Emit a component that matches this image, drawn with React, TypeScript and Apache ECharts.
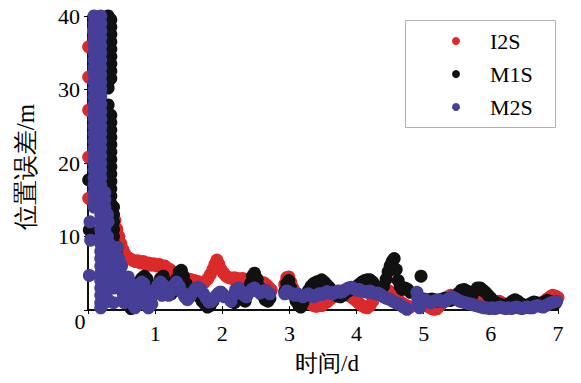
import { useEffect, useRef } from "react";
import * as echarts from "echarts";

// x axis (days) and y axis (m) ranges
const xTickValues = [0, 1, 2, 3, 4, 5, 6, 7];
const yTickValues = [0, 10, 20, 30, 40];
const seriesNames = ["I2S", "M1S", "M2S"];

// I2S position error [day, m]
const i2s: [number, number][] = [
  [0.01, 35.8], [0.01, 31.7], [0.01, 27.2], [0.01, 20.8], [0.01, 15.2],
  [0.08, 38], [0.12, 33], [0.16, 28], [0.2, 24], [0.24, 20], [0.28, 17], [0.32, 15], [0.36, 13.5],
  [0.4, 12.2], [0.43, 11], [0.46, 10], [0.49, 9], [0.52, 8.2], [0.55, 7.6], [0.58, 7.2], [0.62, 7],
  [0.66, 6.8], [0.7, 6.6], [0.74, 6.7], [0.78, 6.4], [0.82, 6.6], [0.86, 6.2], [0.9, 6.4], [0.94, 6.1],
  [0.98, 6.3], [1.02, 6], [1.06, 6.2], [1.1, 5.9], [1.14, 6], [1.18, 5.7], [1.22, 5.5], [1.26, 5.2],
  [1.3, 5], [1.34, 4.9], [1.38, 4.6], [1.42, 4.5], [1.46, 4.3], [1.5, 4.2], [1.54, 4.1], [1.58, 4],
  [1.62, 3.9], [1.66, 3.8], [1.7, 3.7], [1.74, 3.8], [1.78, 4.2], [1.82, 4.8], [1.86, 5.5], [1.89, 6.2],
  [1.92, 6.8], [1.95, 6.2], [1.98, 5.5], [2.02, 5], [2.06, 4.6], [2.1, 4.4], [2.14, 4.3], [2.18, 4.4],
  [2.22, 4.3], [2.26, 4.2], [2.3, 4.3], [2.34, 4.2], [2.38, 4], [2.42, 3.9], [2.46, 3.8], [2.5, 3.9],
  [2.54, 3.7], [2.58, 3.6], [2.62, 3.7], [2.66, 3.4], [2.7, 3], [2.73, 2.7],
  [2.93, 3.5], [2.96, 4.4], [2.99, 4.5], [3.02, 3.8], [3.05, 3], [3.08, 2.4], [3.12, 2], [3.16, 1.8],
  [3.2, 1.5], [3.24, 1.2], [3.28, 1], [3.32, 0.8], [3.36, 0.6], [3.4, 0.5], [3.44, 0.7], [3.48, 0.6],
  [3.52, 0.9], [3.56, 1.1], [3.6, 1.4], [3.64, 1.8], [3.68, 2.2], [3.72, 2.4], [3.76, 2.6], [3.8, 2.5],
  [3.84, 2.2], [3.88, 2], [3.92, 1.8], [3.96, 1.5], [4.0, 1.2], [4.04, 0.9], [4.08, 0.6], [4.12, 0.4],
  [4.16, 0.3], [4.2, 0.6], [4.24, 1.2], [4.28, 1.8], [4.32, 2.2], [4.36, 2.4], [4.4, 2.6], [4.44, 2.8],
  [4.48, 2.6], [4.52, 2.2], [4.56, 1.8], [4.6, 1.5], [4.64, 1.2], [4.68, 0.9], [4.72, 0.7], [4.76, 0.5],
  [4.8, 0.4],
  [4.92, 1.2], [4.96, 1], [5.0, 0.8], [5.04, 0.6], [5.08, 0.4], [5.12, 0.2], [5.16, 0.1], [5.2, 0.2],
  [5.24, 0.6], [5.28, 1], [5.32, 1.4], [5.36, 1.8], [5.4, 2], [5.44, 1.8], [5.48, 1.5], [5.52, 1.3],
  [5.56, 1.2], [5.6, 1.1], [5.64, 1.2], [5.68, 1.4], [5.72, 1.3], [5.76, 1.1], [5.8, 1.2], [5.84, 1.3],
  [5.88, 1.2], [5.92, 1.1], [5.96, 1], [6.0, 0.9], [6.04, 1], [6.08, 1.1], [6.12, 1.2], [6.16, 1],
  [6.2, 0.8], [6.24, 0.6], [6.28, 0.5], [6.32, 0.5], [6.36, 0.6], [6.4, 0.5], [6.44, 0.6], [6.48, 0.7],
  [6.52, 0.6], [6.56, 0.5], [6.6, 0.6], [6.64, 0.7], [6.68, 0.8], [6.72, 0.9], [6.76, 1], [6.8, 1.2],
  [6.84, 1.5], [6.88, 1.8], [6.92, 2], [6.96, 1.9], [7.0, 1.7],
];

// M1S position error [day, m]
const m1s: [number, number][] = [
  [0.01, 17.7], [0.02, 10.9], [0.05, 9.8],
  [0.3, 40], [0.3, 39], [0.3, 38], [0.3, 37], [0.3, 36], [0.3, 35], [0.3, 34], [0.3, 33], [0.3, 32],
  [0.3, 31], [0.3, 30.2], [0.3, 27.9], [0.3, 26.8], [0.3, 25.8], [0.3, 24.8], [0.3, 23.8], [0.3, 22.8],
  [0.3, 21.8], [0.3, 20.8], [0.3, 19.8], [0.3, 18.8], [0.3, 17.8], [0.3, 16.8], [0.3, 15.8],
  [0.34, 39.5], [0.34, 38.5], [0.34, 37.5], [0.34, 36.5], [0.34, 35.5], [0.34, 34.5], [0.34, 33.5],
  [0.34, 32.5], [0.34, 31.5], [0.34, 26.5], [0.34, 25.5], [0.34, 24.5], [0.34, 23.5], [0.34, 22.5],
  [0.34, 21.5], [0.34, 20.5], [0.34, 19.5], [0.34, 18.5], [0.34, 17.5], [0.34, 16.5], [0.34, 15.5],
  [0.34, 14.5], [0.34, 13.5], [0.34, 12.5],
  [0.38, 14], [0.38, 13], [0.38, 12], [0.38, 11], [0.38, 10], [0.38, 9],
  [0.42, 8], [0.45, 6.5], [0.48, 5], [0.5, 3.5], [0.53, 2.2], [0.56, 1.5], [0.6, 0.8], [0.64, 0.2],
  [0.68, 1.5], [0.72, 2.8], [0.76, 3.8], [0.8, 4.3], [0.84, 4.6], [0.88, 4.2], [0.92, 3], [0.96, 2],
  [1.0, 2.5], [1.04, 3.5], [1.08, 4.3], [1.12, 4.6], [1.16, 3.8], [1.2, 2.8], [1.24, 2.2], [1.28, 3],
  [1.32, 4.2], [1.36, 5.2], [1.39, 5.4], [1.42, 4.6], [1.46, 3.6], [1.5, 2.8], [1.54, 2.4], [1.58, 2.6],
  [1.62, 2.2], [1.66, 1.8], [1.7, 1.2], [1.74, 0.8], [1.78, 0.4], [1.82, 0.6], [1.86, 1.2], [1.9, 1.8],
  [1.94, 2.2], [1.98, 2.4], [2.02, 2],
  [2.14, 1.2], [2.18, 1], [2.22, 1.4], [2.26, 1.8], [2.3, 1.6], [2.34, 1.2], [2.38, 2.2], [2.42, 3.6],
  [2.45, 4.6], [2.48, 5], [2.52, 4.2], [2.56, 3], [2.6, 2], [2.64, 1.4], [2.68, 1.2], [2.71, 1.6],
  [2.93, 2.5], [2.96, 3.6], [2.99, 4], [3.02, 3], [3.06, 2], [3.1, 1.2], [3.14, 0.6], [3.17, 0.4],
  [3.2, 1], [3.24, 1.8], [3.28, 2.6], [3.32, 3.2], [3.36, 3.6], [3.4, 3.8], [3.44, 3.9], [3.48, 4.1],
  [3.52, 3.8], [3.56, 3.4], [3.6, 3], [3.64, 2.6], [3.68, 2.2], [3.72, 1.9], [3.76, 1.8], [3.8, 2],
  [3.84, 2.4], [3.88, 2.6], [3.92, 2.8], [3.96, 3], [4.0, 3.2], [4.04, 3.5], [4.08, 3.8], [4.12, 4],
  [4.16, 4.1], [4.2, 4.1], [4.24, 3.8], [4.28, 3.3], [4.32, 2.8], [4.36, 2.6], [4.4, 3.2], [4.44, 4.2],
  [4.47, 5.2], [4.5, 6], [4.53, 6.6], [4.56, 7], [4.59, 5.5], [4.62, 4], [4.65, 3.2], [4.68, 2.8],
  [4.72, 3], [4.76, 2.8], [4.8, 2.4],
  [4.96, 4.6],
  [5.0, 1.5], [5.04, 1.3], [5.08, 1.4], [5.12, 1.5], [5.16, 1.4], [5.2, 1.2], [5.24, 1.3], [5.28, 1.5],
  [5.32, 1.6], [5.36, 1.4], [5.4, 1.3], [5.44, 1.5], [5.48, 1.8], [5.52, 2.3], [5.56, 2.7], [5.6, 2.8],
  [5.64, 2.6], [5.68, 2.2], [5.72, 2], [5.76, 2.6], [5.8, 3], [5.84, 3], [5.88, 2.7], [5.92, 2.4],
  [5.96, 2], [6.0, 1.6], [6.04, 1.2], [6.08, 1], [6.12, 0.8], [6.16, 0.7], [6.2, 0.6], [6.24, 0.7],
  [6.28, 0.9], [6.32, 1.2], [6.36, 1.4], [6.4, 1.2], [6.44, 0.9], [6.48, 0.7], [6.52, 0.6], [6.56, 0.7],
  [6.6, 0.9], [6.64, 1.1], [6.68, 1], [6.72, 0.8], [6.76, 0.9], [6.8, 1.1], [6.84, 1.3], [6.88, 1.2],
  [6.92, 1], [6.96, 0.9],
];

// M2S position error [day, m]
const m2s: [number, number][] = [
  [0.02, 4.7], [0.03, 12], [0.04, 9.5],
  [0.09, 40], [0.09, 39], [0.09, 38], [0.09, 37], [0.09, 36], [0.09, 35], [0.09, 34], [0.09, 33],
  [0.09, 32], [0.09, 31], [0.09, 30], [0.09, 29], [0.09, 28], [0.09, 27], [0.09, 26], [0.09, 25],
  [0.09, 24], [0.09, 23], [0.09, 22], [0.09, 21], [0.09, 20], [0.09, 19], [0.09, 18], [0.09, 17],
  [0.09, 16], [0.09, 15], [0.09, 14],
  [0.19, 40], [0.19, 39], [0.19, 38], [0.19, 37], [0.19, 36], [0.19, 35], [0.19, 34], [0.19, 33],
  [0.19, 32], [0.19, 31], [0.19, 30], [0.19, 29], [0.19, 28], [0.19, 27], [0.19, 26], [0.19, 25],
  [0.19, 24], [0.19, 23], [0.19, 22], [0.19, 21], [0.19, 20], [0.19, 19], [0.19, 18], [0.19, 17],
  [0.19, 16], [0.19, 15], [0.19, 14], [0.19, 13], [0.19, 12], [0.19, 11], [0.19, 10], [0.19, 9],
  [0.19, 8], [0.19, 7], [0.19, 6], [0.19, 5], [0.19, 4], [0.19, 3], [0.19, 2], [0.19, 1], [0.19, 0.3],
  [0.25, 16], [0.25, 15], [0.25, 14], [0.25, 13], [0.25, 12], [0.25, 11], [0.25, 10], [0.25, 9],
  [0.25, 8], [0.25, 7], [0.25, 6], [0.25, 5], [0.25, 4], [0.25, 3], [0.25, 2], [0.25, 1],
  [0.29, 13], [0.29, 10], [0.29, 7], [0.29, 4], [0.29, 1.5], [0.35, 8], [0.4, 5], [0.45, 4],
  [0.5, 6], [0.55, 4], [0.63, 1.2], [0.66, 3.5], [0.76, 1], [0.83, 3.6], [0.95, 0.8], [1.1, 2],
  [0.3, 12], [0.32, 9], [0.34, 6], [0.36, 3], [0.38, 1], [0.4, 3], [0.42, 6], [0.44, 8.5], [0.46, 7],
  [0.48, 5], [0.5, 3], [0.52, 1.5], [0.54, 1], [0.56, 2.5], [0.58, 4], [0.6, 4.5], [0.62, 3.5],
  [0.64, 2.5], [0.66, 1.5], [0.68, 0.6], [0.7, 0.3], [0.72, 1], [0.74, 2], [0.76, 3], [0.78, 3.5],
  [0.8, 3.8], [0.82, 3], [0.84, 2], [0.86, 1.2], [0.88, 0.5], [0.9, 0.3], [0.92, 0.8], [0.94, 1.8],
  [0.96, 2.6], [1.0, 2.6], [1.04, 3.4], [1.08, 3.8], [1.12, 3.4], [1.16, 2.6], [1.2, 2], [1.24, 2.6],
  [1.28, 3.4], [1.32, 3.8], [1.36, 3.2], [1.4, 2.4], [1.44, 1.8], [1.48, 1.4], [1.52, 1.8], [1.56, 2.4],
  [1.6, 2.9], [1.64, 3.1], [1.68, 2.8], [1.72, 2.2], [1.76, 1.6], [1.8, 1.1], [1.84, 1.2], [1.88, 1.6],
  [1.92, 2], [1.96, 2.4], [2.0, 2.2], [2.03, 1.8],
  [2.13, 1.2], [2.16, 2], [2.2, 2.8], [2.24, 3], [2.28, 2.5], [2.32, 2], [2.36, 1.8], [2.4, 2.4],
  [2.44, 2.8], [2.48, 3], [2.52, 2.6], [2.56, 2.3], [2.6, 2.5], [2.64, 2.7], [2.68, 2.4], [2.71, 2.2],
  [2.93, 2.2], [2.96, 2.6], [3.0, 2.4], [3.04, 2.2], [3.08, 2], [3.12, 2.2], [3.16, 2], [3.2, 1.8],
  [3.24, 2], [3.28, 2.2], [3.32, 2], [3.36, 1.8], [3.4, 2], [3.44, 2.2], [3.48, 2.1], [3.52, 2.3],
  [3.56, 2.5], [3.6, 2.4], [3.64, 2.2], [3.68, 2.4], [3.72, 2.6], [3.76, 2.4], [3.8, 2.5], [3.84, 2.8],
  [3.88, 3], [3.92, 3.1], [3.96, 2.9], [4.0, 2.7], [4.04, 2.8], [4.08, 2.6], [4.12, 2.5], [4.16, 2.4],
  [4.2, 2.6], [4.24, 2.4], [4.28, 2.2], [4.32, 2.3], [4.36, 2.1], [4.4, 1.8], [4.44, 1.6], [4.48, 1.5],
  [4.52, 1.3], [4.56, 1.1], [4.6, 0.9], [4.64, 0.8], [4.68, 0.5], [4.72, 0.3], [4.75, 0.1],
  [4.9, 2.4], [4.91, 1.6], [4.92, 0.8], [4.94, 0.3],
  [4.98, 1.2], [5.02, 1.4], [5.06, 1.2], [5.1, 1], [5.14, 1.1], [5.18, 1.3], [5.22, 1.4], [5.26, 1.2],
  [5.3, 1.1], [5.34, 1.3], [5.38, 1.6], [5.42, 1.8], [5.46, 1.6], [5.5, 1.4], [5.54, 1.2], [5.58, 1.1],
  [5.62, 1], [5.66, 0.9], [5.7, 0.8], [5.74, 0.7], [5.78, 0.6], [5.82, 0.5], [5.86, 0.4], [5.9, 0.3],
  [5.94, 0.3], [5.98, 0.2], [6.02, 0.3], [6.06, 0.2], [6.1, 0.3], [6.14, 0.4], [6.18, 0.3], [6.22, 0.2],
  [6.26, 0.3], [6.3, 0.2], [6.34, 0.3], [6.38, 0.4], [6.42, 0.3], [6.46, 0.2], [6.5, 0.3], [6.54, 0.4],
  [6.58, 0.3], [6.62, 0.3], [6.66, 0.5], [6.7, 0.6], [6.74, 0.5], [6.78, 0.4], [6.82, 0.6], [6.86, 0.8],
  [6.9, 1], [6.94, 1.1], [6.98, 1.2],
];

const colors = ["#dc2a2a", "#111111", "#463f98"];

export default function App() {
  const ref = useRef<HTMLDivElement>(null);
  useEffect(() => {
    if (!ref.current) return;
    const chart = echarts.init(ref.current, null, { renderer: "svg" });
    const serif = "Liberation Serif";
    const axisLine = { show: true, lineStyle: { color: "#000", width: 1.5 } };
    const tick = { show: true, inside: true, length: 4, lineStyle: { color: "#000", width: 1 } };
    const label = { fontFamily: serif, fontSize: 22, color: "#000" };
    chart.setOption({
      animation: false,
      backgroundColor: "#fff",
      grid: { left: 88, right: 23, top: 16, bottom: 73, containLabel: false },
      xAxis: [
        {
          type: "value",
          min: xTickValues[0],
          max: xTickValues[xTickValues.length - 1],
          interval: 1,
          position: "bottom",
          axisLine,
          axisTick: tick,
          splitLine: { show: false },
          axisLabel: { ...label, margin: 12, showMinLabel: false },
          name: "时间/d",
          nameLocation: "middle",
          nameGap: 42,
          nameTextStyle: { fontFamily: serif, fontSize: 23, color: "#000", padding: [0, 0, 0, 8] },
        },
        {
          type: "value",
          min: xTickValues[0],
          max: xTickValues[xTickValues.length - 1],
          interval: 1,
          position: "top",
          axisLine,
          axisTick: tick,
          splitLine: { show: false },
          axisLabel: { show: false },
        },
      ],
      yAxis: [
        {
          type: "value",
          min: yTickValues[0],
          max: yTickValues[yTickValues.length - 1],
          interval: 10,
          position: "left",
          axisLine,
          axisTick: tick,
          splitLine: { show: false },
          axisLabel: { ...label, margin: 8, showMinLabel: false },
          name: "位置误差/m",
          nameLocation: "middle",
          nameGap: 50,
          nameRotate: 90,
          nameTextStyle: { fontFamily: serif, fontSize: 25, color: "#000", padding: [0, 8, 0, 0] },
        },
        {
          type: "value",
          min: yTickValues[0],
          max: yTickValues[yTickValues.length - 1],
          interval: 10,
          position: "right",
          axisLine,
          axisTick: tick,
          splitLine: { show: false },
          axisLabel: { show: false },
        },
      ],
      legend: {
        data: seriesNames,
        orient: "vertical",
        left: 452,
        top: 30,
        padding: 0,
        itemWidth: 8,
        itemHeight: 8,
        itemGap: 11,
        icon: "circle",
        z: 20,
        textStyle: { fontFamily: serif, fontSize: 22, color: "#000", lineHeight: 22, padding: [0, 0, 0, 25] },
      },
      graphic: [
        {
          type: "rect",
          z: 15,
          shape: { x: 405.5, y: 20.5, width: 150, height: 107 },
          style: { fill: "#fff", stroke: "#b0b0b0", lineWidth: 1 },
        },
        {
          type: "text",
          x: 80,
          y: 321,
          style: { text: "0", fontFamily: serif, fontSize: 22, fill: "#000", align: "center", verticalAlign: "middle" },
        },
      ],
      series: [i2s, m1s, m2s].map((data, i) => ({
        name: seriesNames[i],
        type: "scatter",
        data,
        symbol: "circle",
        symbolSize: 13,
        itemStyle: { color: colors[i], opacity: 1 },
        xAxisIndex: 0,
        yAxisIndex: 0,
      })),
    });
    return () => chart.dispose();
  }, []);
  return <div ref={ref} style={{ position: "fixed", left: 0, top: 0, width: 581, height: 383 }} />;
}
